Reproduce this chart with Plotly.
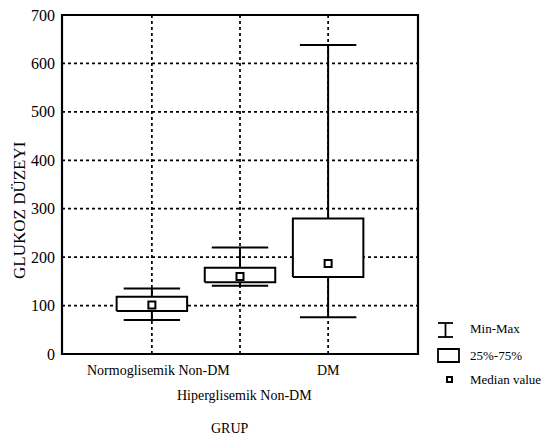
import plotly.graph_objects as go

categories = ["Normoglisemik Non-DM", "Hiperglisemik Non-DM", "DM"]
mins = [70, 141, 76]
q1 = [89, 148, 159]
medians = [101, 160, 187]
q3 = [118, 178, 280]
maxs = [135, 220, 638]
y_ticks = [0, 100, 200, 300, 400, 500, 600, 700]

FONT = "Liberation Serif"
BOX_HALF = 0.40
CAP_HALF = 0.32

fig = go.Figure()

for i, cat in enumerate(categories):
    fig.add_trace(go.Scatter(x=[i, i], y=[mins[i], maxs[i]], mode="lines",
                             line=dict(color="black", width=2), showlegend=False, hoverinfo="skip"))
    for v in (mins[i], maxs[i]):
        fig.add_trace(go.Scatter(x=[i - CAP_HALF, i + CAP_HALF], y=[v, v], mode="lines",
                                 line=dict(color="black", width=2), showlegend=False, hoverinfo="skip"))
    fig.add_trace(go.Scatter(x=[i - BOX_HALF, i + BOX_HALF, i + BOX_HALF, i - BOX_HALF, i - BOX_HALF],
                             y=[q1[i], q1[i], q3[i], q3[i], q1[i]], mode="lines", fill="toself",
                             fillcolor="white", line=dict(color="black", width=2),
                             showlegend=False, hoverinfo="skip"))
    fig.add_trace(go.Scatter(x=[i], y=[medians[i]], mode="markers",
                             marker=dict(symbol="square", size=7, color="white",
                                         line=dict(color="black", width=2)),
                             showlegend=False, hoverinfo="skip"))

L, R, T, B = 62, 418, 15, 354
W, H = 548, 439


def px(x):
    return (x - L) / (R - L)


def py(y):
    return (B - y) / (B - T)


shapes = []
for v in y_ticks[1:-1]:
    shapes.append(dict(type="line", xref="paper", yref="y", x0=0, x1=1, y0=v, y1=v,
                       line=dict(color="black", width=1.7, dash="dot"), layer="below"))
for i in range(len(categories)):
    shapes.append(dict(type="line", xref="x", yref="paper", x0=i, x1=i, y0=0, y1=1,
                       line=dict(color="black", width=1.7, dash="dot"), layer="below"))
shapes.append(dict(type="rect", xref="paper", yref="paper", x0=0, x1=1, y0=0, y1=1,
                   line=dict(color="black", width=2.2)))

shapes += [
    dict(type="line", xref="paper", yref="paper", x0=px(438), x1=px(453), y0=py(323), y1=py(323),
         line=dict(color="black", width=1.8)),
    dict(type="line", xref="paper", yref="paper", x0=px(438), x1=px(453), y0=py(337), y1=py(337),
         line=dict(color="black", width=1.8)),
    dict(type="line", xref="paper", yref="paper", x0=px(445.5), x1=px(445.5), y0=py(323), y1=py(337),
         line=dict(color="black", width=1.8)),
    dict(type="rect", xref="paper", yref="paper", x0=px(438), x1=px(459), y0=py(349), y1=py(362),
         line=dict(color="black", width=1.8)),
    dict(type="rect", xref="paper", yref="paper", x0=px(447), x1=px(452), y0=py(377), y1=py(382),
         line=dict(color="black", width=2)),
]

annotations = []
label_rows = [370, 395, 370]
label_dx = [7, 4, 0]
for i, cat in enumerate(categories):
    annotations.append(dict(x=i, y=py(label_rows[i]), xref="x", yref="paper", text=cat,
                            showarrow=False, xanchor="center", yanchor="middle", xshift=label_dx[i],
                            font=dict(family=FONT, size=14, color="black")))
annotations.append(dict(x=px(230), y=py(428), xref="paper", yref="paper", text="GRUP", showarrow=False,
                        yanchor="middle", font=dict(family=FONT, size=14, color="black")))
for txt, yy in [("Min-Max", 328), ("25%-75%", 355), ("Median value", 379)]:
    annotations.append(dict(x=px(468), y=py(yy), xref="paper", yref="paper", text=txt, showarrow=False,
                            xanchor="left", yanchor="middle",
                            font=dict(family=FONT, size=13, color="black")))
annotations.append(dict(x=px(19), y=py(210), xref="paper", yref="paper", text="GLUKOZ DÜZEYI",
                        textangle=-90, showarrow=False, xanchor="center", yanchor="middle",
                        font=dict(family=FONT, size=17, color="black")))

fig.update_layout(
    width=W, height=H,
    margin=dict(l=L, r=W - R, t=T, b=H - B),
    paper_bgcolor="white", plot_bgcolor="white",
    shapes=shapes, annotations=annotations,
    xaxis=dict(range=[-1.02, 3.02], showticklabels=False, showgrid=False, zeroline=False,
               showline=False, ticks="", automargin=False),
    yaxis=dict(range=[0, 700], tickvals=y_ticks, ticktext=[str(v) for v in y_ticks],
               showgrid=False, zeroline=False, showline=False, ticks="", automargin=False,
               ticklabelstandoff=6,
               tickfont=dict(family=FONT, size=16, color="black")),
)

fig.write_html("out.html", config={"displayModeBar": False},
               post_script="document.body.style.margin='0';document.body.style.overflow='hidden';")
